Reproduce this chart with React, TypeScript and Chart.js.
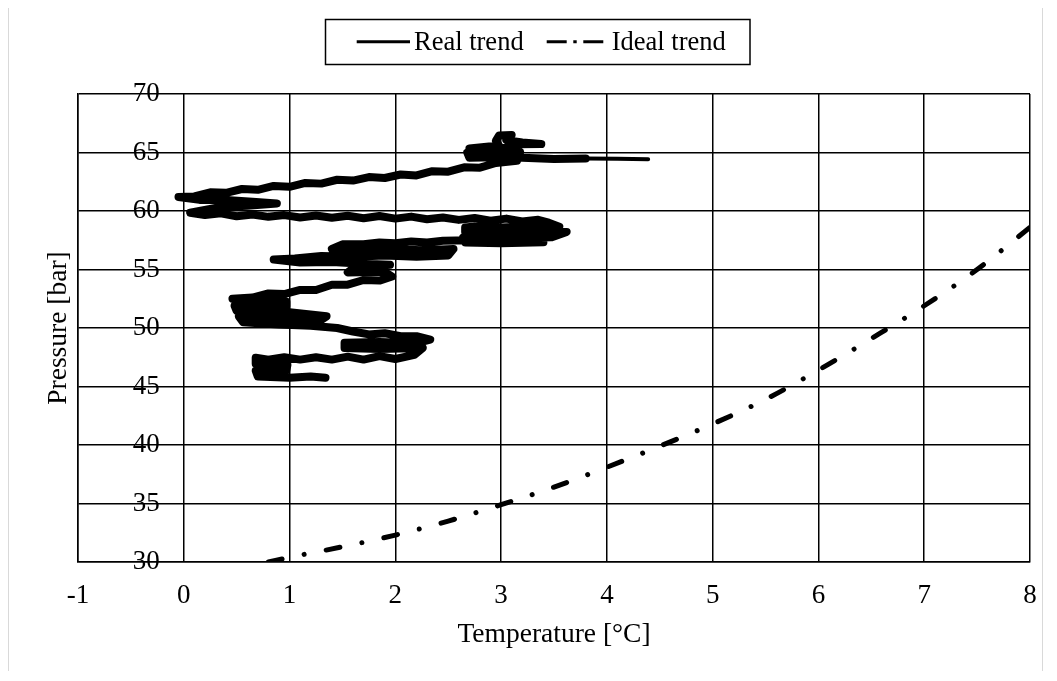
import React, { useEffect, useRef } from "react";
import { Chart, registerables } from "chart.js";

Chart.register(...registerables);

// ---------- data ----------
const xTickValues = [-1, 0, 1, 2, 3, 4, 5, 6, 7, 8];
const xTickLabels = ["-1", "0", "1", "2", "3", "4", "5", "6", "7", "8"];
const yTickValues = [30, 35, 40, 45, 50, 55, 60, 65, 70];
const yTickLabels = ["30", "35", "40", "45", "50", "55", "60", "65", "70"];

const seriesLabels = ["Real trend", "Ideal trend"];
const axisTitles = { x: "Temperature [°C]", y: "Pressure [bar]" };

// Real trend (temperature [°C], pressure [bar]) read along the noisy measured path
const realTemperature = [
  4.39, 4.1, 3.8, 3.5, 3.2, 2.95, 2.7, 2.68, 2.95, 3.18, 3.1, 2.85, 2.7, 2.98, 2.95, 2.98, 3.1, 3.05, 3.2, 3.38, 3.15, 3.15,
  2.95, 2.8, 2.65, 2.5, 2.35, 2.2, 2.05, 1.9, 1.75, 1.6, 1.45, 1.3, 1.15, 1.0, 0.85, 0.7, 0.55, 0.4, 0.25, 0.1, -0.05,
  0.15, 0.4, 0.65, 0.88, 0.6, 0.35, 0.06,
  0.2, 0.35, 0.5, 0.65, 0.8, 0.95, 1.1, 1.25, 1.4, 1.55, 1.7, 1.85, 2.0, 2.15, 2.3, 2.45, 2.6, 2.75, 2.9, 3.05, 3.2, 3.35, 3.45,
  3.55, 3.3, 3.0, 2.75, 2.66,
  2.66, 2.95, 3.25, 3.62,
  3.48, 3.15, 2.85, 2.64,
  2.66, 3.0, 3.4,
  3.3, 3.0, 2.7, 2.45, 2.3, 2.15, 2.0, 1.85, 1.7, 1.5,
  1.4, 1.65, 1.95, 2.25, 2.55,
  2.5, 2.2, 1.9, 1.6, 1.3, 1.05, 0.85,
  1.1, 1.4, 1.7, 1.95,
  1.6, 1.55, 1.9, 1.97,
  1.85, 1.7, 1.55, 1.4, 1.25, 1.1, 0.95, 0.8, 0.65, 0.46,
  0.97, 0.97, 0.48, 0.5, 1.0, 1.35, 1.3, 0.9, 0.52, 0.56, 0.9, 1.2, 1.45,
  1.6, 1.75, 1.9, 2.05, 2.2, 2.33,
  2.2, 1.85, 1.52, 1.52, 1.85, 2.26,
  2.18, 2.0, 1.85, 1.7, 1.55, 1.4, 1.25, 1.1, 0.95, 0.8, 0.68,
  0.68, 0.98, 0.97, 0.68, 0.7, 1.0, 1.2, 1.34,
];
const realPressure = [
  64.42, 64.47, 64.48, 64.45, 64.55, 64.6, 64.55, 65.0, 64.95, 65.05, 65.4, 65.35, 65.35, 65.6, 66.0, 66.45, 66.5, 66.05, 65.85, 65.72, 65.7, 64.3,
  64.1, 63.7, 63.73, 63.36, 63.4, 63.04, 63.12, 62.82, 62.9, 62.6, 62.67, 62.34, 62.4, 62.07, 62.14, 61.81, 61.88, 61.55, 61.6, 61.25, 61.2,
  60.95, 60.95, 60.8, 60.65, 60.45, 60.35, 59.85,
  59.65, 59.8, 59.55, 59.7, 59.5, 59.65, 59.45, 59.62, 59.42, 59.6, 59.38, 59.57, 59.35, 59.52, 59.3, 59.45, 59.24, 59.4, 59.18, 59.35, 59.1, 59.25, 59.0,
  58.65, 58.7, 58.6, 58.68, 58.6,
  58.2, 58.2, 58.25, 58.2,
  57.75, 57.7, 57.75, 57.72,
  57.3, 57.25, 57.32,
  57.5, 57.45, 57.5, 57.45, 57.3, 57.4, 57.25, 57.3, 57.15, 57.15,
  56.75, 56.65, 56.75, 56.65, 56.75,
  56.2, 56.1, 56.2, 56.1, 56.15, 55.95, 55.85,
  55.6, 55.65, 55.5, 55.4,
  55.1, 54.75, 54.8, 54.4,
  54.05, 54.1, 53.7, 53.7, 53.25, 53.25, 52.9, 52.95, 52.6, 52.5,
  52.25, 51.85, 51.9, 51.45, 51.35, 51.0, 50.7, 50.8, 51.0, 50.5, 50.3, 50.2, 50.0,
  49.7, 49.45, 49.55, 49.3, 49.3, 49.0,
  48.7, 48.8, 48.75, 48.3, 48.2, 48.3,
  47.7, 47.35, 47.6, 47.3, 47.55, 47.3, 47.5, 47.3, 47.5, 47.3, 47.45,
  46.95, 46.85, 46.4, 46.35, 45.85, 45.75, 45.85, 45.75,
];

// Ideal trend
const idealTemperature = [0.8, 1.0, 1.5, 2.0, 2.5, 3.0, 3.5, 4.0, 4.5, 5.0, 5.5, 6.0, 6.5, 7.0, 7.5, 8.0];
const idealPressure = [30.0, 30.4, 31.3, 32.3, 33.5, 34.9, 36.4, 38.1, 39.9, 41.8, 43.9, 46.4, 49.1, 51.9, 55.0, 58.6];

// ---------- chart ----------
const FONT = '"Liberation Serif", "Times New Roman", serif';

const boxedLegend = {
  id: "boxedLegend",
  afterDraw(chart: any) {
    const ctx = chart.ctx as CanvasRenderingContext2D;
    const ds = chart.data.datasets;
    ctx.save();
    ctx.strokeStyle = "#000";
    ctx.lineWidth = 1.5;
    ctx.setLineDash([]);
    ctx.strokeRect(316.5, 15.5, 424.5, 45);
    const lineY = 37.7;
    ctx.lineWidth = 3;
    ctx.lineCap = "butt";
    ctx.beginPath();
    ctx.moveTo(347.7, lineY);
    ctx.lineTo(401, lineY);
    ctx.stroke();
    ctx.setLineDash([20, 6.6, 3.4, 6.6]);
    ctx.beginPath();
    ctx.moveTo(537.7, lineY);
    ctx.lineTo(595, lineY);
    ctx.stroke();
    ctx.setLineDash([]);
    ctx.fillStyle = "#000";
    ctx.font = `26.5px ${FONT}`;
    ctx.textBaseline = "alphabetic";
    ctx.textAlign = "left";
    ctx.fillText(ds[0].label, 405, 46);
    ctx.fillText(ds[1].label, 602.7, 46);
    ctx.restore();
  },
};

export default function App() {
  const ref = useRef<HTMLCanvasElement>(null);

  useEffect(() => {
    const realData = realTemperature.map((t, i) => ({ x: t, y: realPressure[i] }));
    const idealData = idealTemperature.map((t, i) => ({ x: t, y: idealPressure[i] }));

    const chart = new Chart(ref.current as HTMLCanvasElement, {
      type: "scatter",
      data: {
        datasets: [
          {
            label: seriesLabels[0],
            data: realData,
            showLine: true,
            borderColor: "#000",
            backgroundColor: "#000",
            borderWidth: 8,
            pointRadius: 0,
            tension: 0,
            borderJoinStyle: "round",
            borderCapStyle: "round",
            segment: {
              borderWidth: (c: any) =>
                c.p0.parsed.x > 3.7 && c.p1.parsed.x > 3.7 ? 4 : undefined,
            },
          } as any,
          {
            label: seriesLabels[1],
            data: idealData,
            showLine: true,
            borderColor: "#000",
            backgroundColor: "#000",
            borderWidth: 5,
            borderDash: [14, 22.5, 0.01, 22.5],
            borderCapStyle: "round",
            pointRadius: 0,
            cubicInterpolationMode: "monotone",
          } as any,
        ],
      },
      options: {
        responsive: false,
        animation: false,
        devicePixelRatio: 1,
        events: [],
        layout: { padding: { top: 90, right: 11, left: 0, bottom: 0 } },
        plugins: { legend: { display: false }, tooltip: { enabled: false } },
        scales: {
          x: {
            type: "linear",
            min: -1,
            max: 8,
            afterBuildTicks: (s: any) => {
              s.ticks = xTickValues.map((v) => ({ value: v }));
            },
            afterFit: (s: any) => {
              s.height = 108;
              s.paddingLeft = 0;
              s.paddingRight = 0;
            },
            ticks: {
              autoSkip: false,
              maxRotation: 0,
              padding: 17.3,
              color: "#000",
              font: { family: FONT, size: 27 },
              callback: (_v: any, i: number) => xTickLabels[i],
            },
            grid: { color: "#000", lineWidth: 1.5, drawTicks: false },
            border: { color: "#000", width: 1.5 },
            title: {
              display: true,
              text: axisTitles.x,
              color: "#000",
              font: { family: FONT, size: 27.5 },
              padding: { top: 0, bottom: 18.6 },
            },
          },
          y: {
            type: "linear",
            min: 30,
            max: 70,
            afterBuildTicks: (s: any) => {
              s.ticks = yTickValues.map((v) => ({ value: v }));
            },
            afterFit: (s: any) => {
              s.width = 69;
              s.paddingTop = 0;
              s.paddingBottom = 0;
            },
            ticks: {
              mirror: true,
              autoSkip: false,
              padding: 54.7,
              color: "#000",
              font: { family: FONT, size: 27 },
              callback: (_v: any, i: number) => yTickLabels[i],
            },
            grid: { color: "#000", lineWidth: 1.5, drawTicks: false },
            border: { color: "#000", width: 1.5 },
            title: {
              display: true,
              text: axisTitles.y,
              color: "#000",
              font: { family: FONT, size: 27.5 },
              padding: { top: 33.5, bottom: 0 },
            },
          },
        },
      } as any,
      plugins: [boxedLegend],
    });
    return () => chart.destroy();
  }, []);

  return (
    <div
      style={{
        position: "relative",
        width: 1035,
        height: 668,
        marginTop: -5,
        borderTop: "1px solid #d9d9d9",
        borderLeft: "1px solid #d9d9d9",
        borderRight: "1px solid #d9d9d9",
        boxSizing: "border-box",
        background: "#fff",
      }}
    >
      <canvas
        ref={ref}
        width={1032}
        height={666}
        style={{ position: "absolute", left: 0, top: 0, width: 1032, height: 666 }}
      />
    </div>
  );
}
